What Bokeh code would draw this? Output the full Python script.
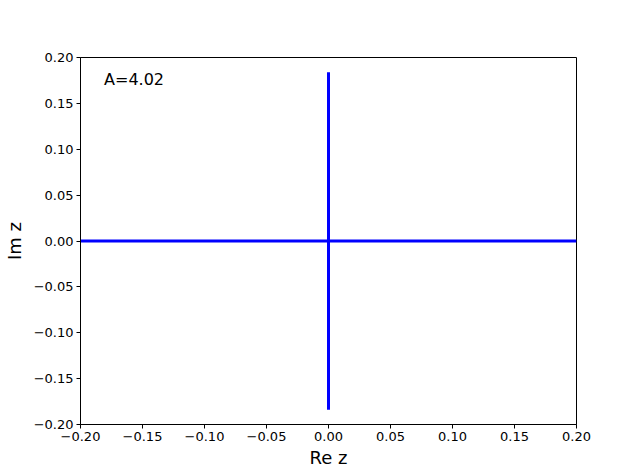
from bokeh.plotting import figure
from bokeh.models import Range1d, FixedTicker
from bokeh.core.properties import value
from bokeh.embed import file_html
from bokeh.resources import INLINE

# data
horiz_re = [-0.2, 0.2]
horiz_im = [0.0, 0.0]
vert_re = [0.0, 0.0]
vert_im = [-0.184, 0.184]
ann_x = [-0.181]
ann_y = [0.186]
ann_text = ["A=4.02"]
tick_vals = [-0.20, -0.15, -0.10, -0.05, 0.00, 0.05, 0.10, 0.15, 0.20]
tick_labels = ["\u22120.20", "\u22120.15", "\u22120.10", "\u22120.05", "0.00",
               "0.05", "0.10", "0.15", "0.20"]

p = figure(width=624, height=470, output_backend="svg", toolbar_location=None,
           x_range=Range1d(-0.2, 0.2), y_range=Range1d(-0.2, 0.2),
           min_border_left=80, min_border_right=48, min_border_top=57, min_border_bottom=46)

p.line(horiz_re, horiz_im, line_color="#0000ff", line_width=3)
p.line(vert_re, vert_im, line_color="#0000ff", line_width=3)
p.text(x=ann_x, y=ann_y, text=ann_text, text_font=value("DejaVu Sans"),
       text_font_size="16px", text_baseline="top", text_align="left", text_color="black")

p.grid.visible = False
p.outline_line_color = "black"
p.outline_line_width = 1
p.outline_line_alpha = 1

overrides = {v: l for v, l in zip(tick_vals, tick_labels)}
for ax in (p.xaxis[0], p.yaxis[0]):
    ax.ticker = FixedTicker(ticks=tick_vals)
    ax.major_label_overrides = overrides
    ax.major_label_text_font = "DejaVu Sans"
    ax.major_label_text_font_size = "13px"
    ax.major_label_text_color = "black"
    ax.axis_label_text_font = "DejaVu Sans"
    ax.axis_label_text_font_size = "18px"
    ax.axis_label_text_font_style = "normal"
    ax.axis_label_text_color = "black"
    ax.axis_line_color = "black"
    ax.major_tick_line_color = "black"
    ax.major_tick_out = 4
    ax.major_tick_in = 0
    ax.minor_tick_line_color = None
    ax.major_label_standoff = 3

p.xaxis.axis_label = "Re z"
p.yaxis.axis_label = "Im z"
p.xaxis.axis_label_standoff = 3
p.yaxis.axis_label_standoff = 6

open("out.html", "w").write(file_html(p, INLINE))
